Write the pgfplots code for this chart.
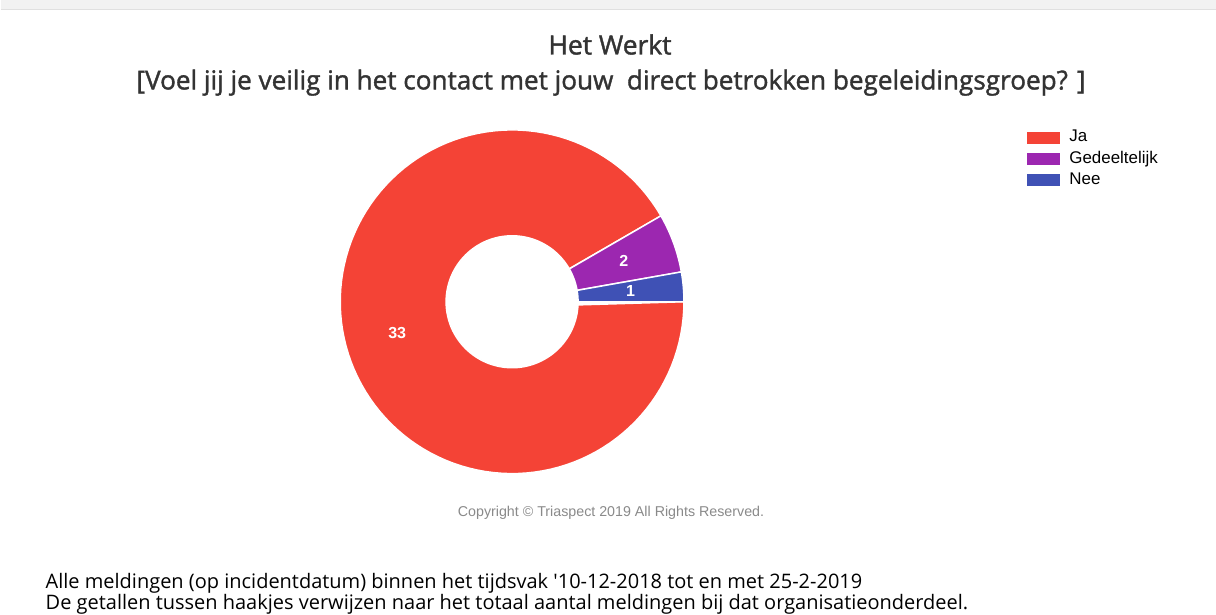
\documentclass[border=0pt]{standalone}
\usepackage{pgfplots}
\pgfplotsset{compat=1.18}
\usepackage{fontspec}
\setmainfont{Liberation Sans}
\newfontfamily\titlefont{Open Sans}[FakeBold=1.4]
\newfontfamily\notefont{Open Sans}
\definecolor{cJa}{HTML}{F44336}
\definecolor{cGed}{HTML}{9C27B0}
\definecolor{cNee}{HTML}{3F51B5}
\definecolor{ctitle}{HTML}{333333}
\definecolor{ccopy}{HTML}{8A8A8A}
% slice: #1 = style, #2 = count before this slice, #3 = count of this slice, total 36
\newcommand{\slice}[3]{%
  \pgfmathsetmacro{\sA}{#2*360/36}%
  \pgfmathsetmacro{\sE}{(#2+#3)*360/36}%
  \edef\doslice{\noexpand\addplot[#1, draw=white, line width=1.1pt, domain=0:2, samples=241]
   ({(x<1.004 ? 1 : 0.384)*cos(x<1.004 ? \sA+(\sE-\sA)*x : \sE-(\sE-\sA)*(x-1))},
    {(x<1.004 ? 1 : 0.384)*sin(x<1.004 ? \sA+(\sE-\sA)*x : \sE-(\sE-\sA)*(x-1))}) -- cycle;}%
  \doslice
}
\begin{document}
\begin{tikzpicture}[x=0.75pt,y=-0.75pt]
\fill[white] (0,0) rectangle (1216,612);
\fill[black!5] (0,0) rectangle (1216,9);
\draw[black!12, line width=0.75pt] (0,9.5) -- (1216,9.5);
\coordinate (C) at (512,302);
\begin{axis}[at={(C)}, anchor=center, width=258pt, height=258pt, scale only axis,
  xmin=-1, xmax=1, ymin=-1, ymax=1, hide axis, clip=false,
  legend cell align=left,
  legend style={at={(axis description cs:1.997,1.009)}, anchor=north west, draw=none, fill=none,
    inner sep=0pt, row sep=0pt, column sep=5.5pt,
    font=\fontsize{12.7}{14}\selectfont,
    nodes={text height=9.2pt, text depth=3pt, inner sep=1.9pt}},
  legend image code/.code={\fill[#1,draw=none] (0pt,-4.5pt) rectangle (24.5pt,4.5pt);},
  ]
\slice{fill=cJa}{3}{33}
\addlegendentry{Ja}
\slice{fill=cGed}{1}{2}
\addlegendentry{Gedeeltelijk}
\slice{fill=cNee}{0}{1}
\addlegendentry{Nee}
\node[text=white, font=\bfseries\fontsize{12}{12}\selectfont] at (axis cs:{0.692*cos(5)},{0.692*sin(5)}) {1};
\node[text=white, font=\bfseries\fontsize{12}{12}\selectfont] at (axis cs:{0.692*cos(20)},{0.692*sin(20)}) {2};
\node[text=white, font=\bfseries\fontsize{12}{12}\selectfont] at (axis cs:{0.692*cos(195)},{0.692*sin(195)}) {33};
\end{axis}
\node[anchor=base, text=ctitle, font=\titlefont\fontsize{19.8}{22}\selectfont] at (610,54.5) {Het Werkt};
\node[anchor=base, text=ctitle, font=\titlefont\fontsize{19.6}{22}\selectfont] at (611,89.5) {[Voel jij je veilig in het contact met jouw\ \ direct betrokken begeleidingsgroep? ]};
\node[anchor=base, text=ccopy, font=\fontsize{10.7}{12}\selectfont] at (611,516.5) {Copyright © Triaspect 2019 All Rights Reserved.};
\node[anchor=base west, inner sep=0pt, font=\notefont\fontsize{15}{16}\selectfont] at (45,589) {Alle meldingen (op incidentdatum) binnen het tijdsvak \textquotesingle10-12-2018 tot en met 25-2-2019};
\node[anchor=base west, inner sep=0pt, font=\notefont\fontsize{15}{16}\selectfont] at (45,610) {De getallen tussen haakjes verwijzen naar het totaal aantal meldingen bij dat organisatieonderdeel.};
\end{tikzpicture}
\end{document}
